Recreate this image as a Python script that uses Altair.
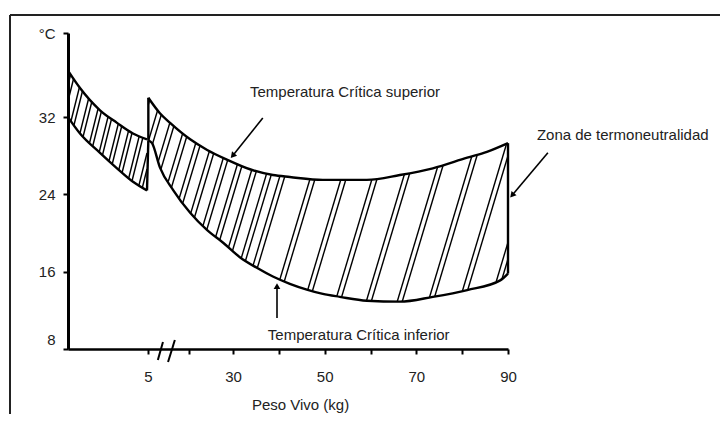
import altair as alt
import numpy as np
import pandas as pd

# ---------------- data ----------------
# left zone (piglets before weaning), kg / °C
left_kg = [1.0, 1.6, 2.6, 3.45, 4.25, 4.95]
left_upper = [36.8, 35.0, 32.7, 31.4, 30.3, 29.7]
left_lower = [32.0, 30.3, 28.3, 26.7, 25.3, 24.4]

# right zone (5 - 90 kg): upper critical temperature
ru_kg = [5.1, 8.5, 11.5, 17.4, 22.4, 28.2, 33.7, 38.7, 42.4, 49.6, 59.2, 66.4, 73.6, 81.1, 85.4, 90.0]
ru_t = [34.0, 32.4, 31.4, 29.7, 28.6, 27.6, 26.6, 26.0, 25.8, 25.5, 25.5, 26.0, 26.7, 27.8, 28.4, 29.3]
# right zone: lower critical temperature
rl_kg = [5.1, 6.2, 8.5, 12.4, 17.4, 22.4, 27.1, 31.5, 35.2, 38.7, 42.4, 46.1, 49.6, 53.3, 59.2, 66.4, 73.6, 81.1, 88.3, 90.0]
rl_t = [29.6, 29.3, 26.8, 24.45, 22.1, 20.3, 19.0, 17.5, 16.4, 15.5, 14.75, 14.15, 13.7, 13.4, 13.0, 12.9, 13.4, 14.1, 15.1, 15.8]

x_ticks = [5, 17, 30, 40, 50, 60, 70, 80, 90]
x_labels = [5, 30, 50, 70, 90]
y_ticks = [8, 16, 24, 32, 40.7]

annot_text = ["Temperatura Crítica superior", "Zona de termoneutralidad", "Temperatura Crítica inferior"]
annot_kg = [33.7, 96.3, 37.6]
annot_t = [34.6, 30.1, 9.45]

arrow_kg = [36.5, 98.7, 39.6]
arrow_t = [31.9, 28.3, 11.2]
arrow_kg2 = [29.9, 90.9, 39.6]
arrow_t2 = [28.0, 23.9, 14.5]
arrow_angle = [221, 221, 0]

break_kg = [7.9, 10.9]
break_t = [6.86, 6.65]
break_kg2 = [9.4, 12.9]
break_t2 = [8.72, 8.93]

# ---------------- scales / layout ----------------
X_DOMAIN = [1, 5, 30, 90]          # broken axis: piecewise linear scale
X_RANGE = [0, 80, 165, 440]
Y_DOMAIN = [8, 40.7]
W, H = 440, 316
FONT = "Liberation Sans"
TXT = "#222222"


def to_px(kg, t):
    return (np.interp(kg, X_DOMAIN, X_RANGE),
            (np.asarray(t, dtype=float) - Y_DOMAIN[0]) * H / (Y_DOMAIN[1] - Y_DOMAIN[0]))


def from_px(x, y):
    return float(np.interp(x, X_RANGE, X_DOMAIN)), float(Y_DOMAIN[0] + y * (Y_DOMAIN[1] - Y_DOMAIN[0]) / H)


def hatch(up_kg, up, lo_kg, lo, intercepts, k):
    xu, yu = to_px(up_kg, up)
    xl, yl = to_px(lo_kg, lo)
    x0, x1 = max(xu[0], xl[0]), min(xu[-1], xl[-1])
    ys = np.arange(0, H + 40, 0.25)
    rows = []
    for c in intercepts:
        xx = c + k * ys
        m = (xx >= x0) & (xx <= x1)
        if m.sum() < 2:
            continue
        yy, xm = ys[m], xx[m]
        inside = (yy >= np.interp(xm, xl, yl)) & (yy <= np.interp(xm, xu, yu))
        if inside.sum() < 3:
            continue
        ya, yb = yy[inside].min(), yy[inside].max()
        k1, t1 = from_px(c + k * ya, ya)
        k2, t2 = from_px(c + k * yb, yb)
        rows.append(dict(kg=k1, t=t1, kg2=k2, t2=t2))
    return rows


left_c = []
for c in np.arange(-78, 40, 12):
    left_c += [c, c + 4]
right_c = []
for c in list(np.arange(2, 150, 16)) + list(np.arange(160, 430, 31)):
    right_c += [c, c + 5]

hatch_df = pd.DataFrame(hatch(left_kg, left_upper, left_kg, left_lower, left_c, 0.25)
                        + hatch(ru_kg, ru_t, rl_kg, rl_t, right_c, 0.3))

curves = []
for name, kg, vals in [("lu", left_kg, left_upper), ("ll", left_kg, left_lower),
                       ("ru", ru_kg, ru_t), ("rl", rl_kg, rl_t)]:
    for a, b in zip(kg, vals):
        curves.append(dict(id=name, kg=a, t=b))
curve_df = pd.DataFrame(curves)

edges_df = pd.DataFrame([
    dict(kg=left_kg[-1], t=left_lower[-1], kg2=rl_kg[0], t2=rl_t[0]),
    dict(kg=ru_kg[0], t=rl_t[0], kg2=ru_kg[0], t2=ru_t[0]),
    dict(kg=ru_kg[-1], t=rl_t[-1], kg2=ru_kg[-1], t2=ru_t[-1]),
])

annot_df = pd.DataFrame(dict(text=annot_text, kg=annot_kg, t=annot_t))
arrow_df = pd.DataFrame(dict(kg=arrow_kg, t=arrow_t, kg2=arrow_kg2, t2=arrow_t2, angle=arrow_angle))
break_df = pd.DataFrame(dict(kg=break_kg, t=break_t, kg2=break_kg2, t2=break_t2))

label_test = " || ".join(f"datum.value == {v}" for v in x_labels)

xscale = alt.Scale(domain=X_DOMAIN, range=X_RANGE, nice=False, zero=False)
yscale = alt.Scale(domain=Y_DOMAIN, nice=False, zero=False)
xaxis = alt.Axis(values=x_ticks, labelExpr=f"({label_test}) ? datum.label : ''",
                 title="Peso Vivo (kg)", titleFontSize=15, titleFontWeight="normal",
                 titleFont=FONT, titleColor=TXT, titleX=232, titleY=55, titleBaseline="middle",
                 titleAnchor="start", titleAlign="center",
                 labelFont=FONT, labelFontSize=15, labelColor=TXT, labelPadding=15,
                 labelFlush=False, labelOverlap=False, grid=False,
                 domainColor="black", domainWidth=2.5, tickColor="black", tickWidth=2, tickSize=5)
yaxis = alt.Axis(values=y_ticks, labelExpr="datum.value > 40 ? '°C' : datum.label",
                 title=None, labelFont=FONT, labelFontSize=15, labelColor=TXT, labelPadding=8,
                 labelFlush=False, labelOverlap=False, grid=False,
                 labelOffset={"condition": {"test": "datum.value == 8", "value": -10}, "value": 0},
                 domainColor="black", domainWidth=3, tickColor="black", tickWidth=2, tickSize=5)


def X(f="kg"):
    return alt.X(f, type="quantitative", scale=xscale, axis=xaxis)


def Y(f="t"):
    return alt.Y(f, type="quantitative", scale=yscale, axis=yaxis)


hatch_layer = alt.Chart(hatch_df).mark_rule(color="black", strokeWidth=1.4).encode(
    x=X(), y=Y(), x2="kg2", y2="t2")

curve_layer = alt.Chart(curve_df).mark_line(color="black", strokeWidth=2.4, interpolate="monotone").encode(
    x=X(), y=Y(), detail="id:N")

edge_layer = alt.Chart(edges_df).mark_rule(color="black", strokeWidth=2.4).encode(
    x=X(), y=Y(), x2="kg2", y2="t2")

text_layer = alt.Chart(annot_df).mark_text(align="left", baseline="middle", font=FONT,
                                          fontSize=15, color=TXT).encode(
    x=X(), y=Y(), text="text:N")

arrow_layer = alt.Chart(arrow_df).mark_rule(color="black", strokeWidth=1.6).encode(
    x=X(), y=Y(), x2="kg2", y2="t2")

head_layer = alt.Chart(arrow_df).mark_point(shape="triangle-up", filled=True, color="black",
                                           size=45, opacity=1).encode(
    x=X("kg2"), y=Y("t2"), angle=alt.Angle("angle:Q", scale=None))

break_layer = alt.Chart(break_df).mark_rule(color="black", strokeWidth=2).encode(
    x=X(), y=Y(), x2="kg2", y2="t2")

frame = pd.DataFrame([{"a": 1}])
top_border = alt.Chart(frame).mark_rule(color="#222222", strokeWidth=2).encode(
    x=alt.value(-58), x2=alt.value(660), y=alt.value(-18))
left_border = alt.Chart(frame).mark_rule(color="#222222", strokeWidth=2).encode(
    x=alt.value(-58), y=alt.value(-18), y2=alt.value(381))

chart = alt.layer(
    hatch_layer, curve_layer, edge_layer, arrow_layer, head_layer, break_layer,
    text_layer, top_border, left_border
).properties(
    width=W, height=H,
    autosize=alt.AutoSizeParams(type="none"),
    padding={"left": 60, "top": 25, "right": 212, "bottom": 65},
    background="white",
).configure_view(stroke=None)

chart.save("out.html", embed_options={"renderer": "svg", "actions": False})
